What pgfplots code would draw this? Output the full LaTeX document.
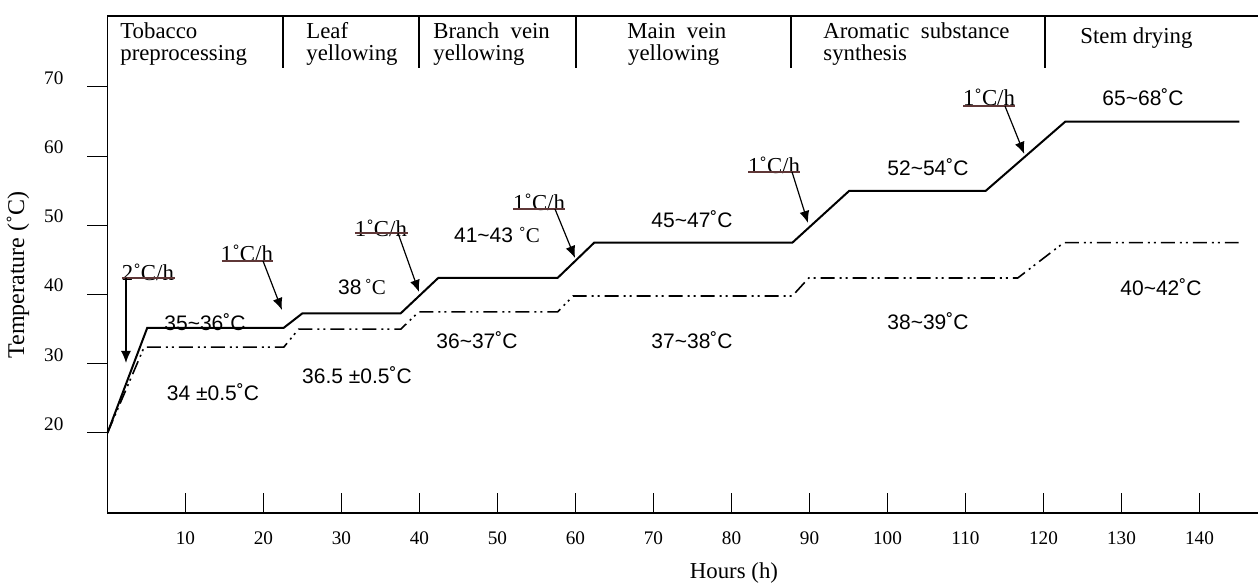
\documentclass[border=0pt]{standalone}
\usepackage{fontspec}
\setmainfont{Liberation Serif}
\newfontfamily\sansf{Liberation Sans}
\usepackage{pgfplots}
\pgfplotsset{compat=1.18}
\usetikzlibrary{arrows.meta}
\definecolor{ulc}{RGB}{95,55,55}
\newcommand\tl{\textasciitilde}
\begin{document}
\begin{tikzpicture}[
  hdr/.style={anchor=base west, inner sep=0pt, font=\fontsize{11.4}{13}\selectfont},
  vl/.style={inner sep=0pt, font=\sansf\fontsize{10.5}{12}\selectfont},
  rl/.style={inner sep=0pt, font=\fontsize{11.4}{13}\selectfont},
  arr/.style={line width=0.6pt, -{Latex[length=6pt,width=5pt]}},
  ul/.style={ulc, line width=0.6pt}
]
\begin{axis}[
  x=3.9pt, y=3.46pt,
  xmin=0, xmax=147.5, ymin=8.44, ymax=80.26,
  axis line style={draw=none},
  tick pos=left,
  xtick={10,20,...,140}, ytick={20,30,...,70},
  xtick align=inside, ytick align=outside,
  major tick length=10pt,
  tick style={black, line width=0.5pt},
  /pgf/number format/assume math mode=true,
  tick label style={font=\fontsize{9.6}{11}\selectfont},
  xticklabel style={yshift=-6pt},
  yticklabel style={yshift=4.5pt, xshift=-8.5pt},
  clip=false,
]
% solid line (upper)
\addplot[black, line width=1pt] coordinates {
 (0,20) (5.1,35.2) (22.6,35.2) (25,37.3) (37.6,37.3) (42.4,42.4) (57.7,42.4)
 (62.4,47.5) (87.8,47.5) (95.1,55) (112.6,55) (122.8,65) (145.1,65)};
% dash-dot-dot line (lower)
\addplot[black, line width=0.8pt, dash pattern=on 7pt off 2.5pt on 1pt off 2pt on 1pt off 2.5pt] coordinates {
 (0,20) (4.7,32.4) (22.6,32.4) (24.5,35.0) (37.6,35.0) (39.9,37.5) (57.7,37.5)
 (59.7,39.8) (87.8,39.8) (89.9,42.4) (116.7,42.4) (122.6,47.5) (145,47.5)};
% axis frame
\draw[line width=0.9pt] (axis cs:0,80.26) -- (axis cs:0,8.44) -- (axis cs:147.5,8.44);
\draw[line width=0.9pt] (axis cs:0,80.26) -- (axis cs:147.5,80.26);
\draw[line width=0.7pt] (axis cs:22.5,80.26) -- (axis cs:22.5,72.75);
\draw[line width=0.7pt] (axis cs:39.94,80.26) -- (axis cs:39.94,72.75);
\draw[line width=0.7pt] (axis cs:60.06,80.26) -- (axis cs:60.06,72.75);
\draw[line width=0.7pt] (axis cs:87.63,80.26) -- (axis cs:87.63,72.75);
\draw[line width=0.7pt] (axis cs:120.19,80.26) -- (axis cs:120.19,72.75);
% header
\node[hdr] at (axis cs:1.6,76.94) {Tobacco};
\node[hdr] at (axis cs:1.6,73.76) {preprocessing};
\node[hdr] at (axis cs:25.45,76.94) {Leaf};
\node[hdr] at (axis cs:25.45,73.76) {yellowing};
\node[hdr] at (axis cs:41.73,76.94) {Branch\ \ vein};
\node[hdr] at (axis cs:41.73,73.76) {yellowing};
\node[hdr] at (axis cs:66.6,76.94) {Main\ \ vein};
\node[hdr] at (axis cs:66.7,73.76) {yellowing};
\node[hdr] at (axis cs:91.73,76.94) {Aromatic\ \ substance};
\node[hdr] at (axis cs:91.73,73.76) {synthesis};
\node[hdr] at (axis cs:124.68,76.32) {Stem drying};
% value labels
\node[vl] at (axis cs:12.5,36.04) {35\tl36˚C};
\node[vl] at (axis cs:13.53,25.92) {34 ±0.5˚C};
\node[vl] at (axis cs:31.99,28.38) {36.5 ±0.5˚C};
\node[vl] at (axis cs:32.63,41.10) {38\,{\rmfamily ˚C}};
\node[vl] at (axis cs:49.94,48.61) {41\tl43 {\rmfamily ˚C}};
\node[vl] at (axis cs:74.94,50.92) {45\tl47˚C};
\node[vl] at (axis cs:47.37,33.44) {36\tl37˚C};
\node[vl] at (axis cs:74.94,33.44) {37\tl38˚C};
\node[vl] at (axis cs:105.19,58.44) {52\tl54˚C};
\node[vl] at (axis cs:132.76,68.55) {65\tl68˚C};
\node[vl] at (axis cs:105.19,36.18) {38\tl39˚C};
\node[vl] at (axis cs:135.06,41.10) {40\tl42˚C};
% rate labels
\node[rl] at (axis cs:5.19,43.27) {2˚C/h};
\draw[ul] (axis cs:1.86,42.40) -- (axis cs:8.65,42.40);
\draw[arr] (axis cs:2.37,42.40) -- (axis cs:2.37,30.12);
\node[rl] at (axis cs:17.88,46.01) {1˚C/h};
\draw[ul] (axis cs:14.68,44.86) -- (axis cs:21.22,44.86);
\draw[arr] (axis cs:19.94,44.86) -- (axis cs:22.37,37.77);
\node[rl] at (axis cs:35.06,49.62) {1˚C/h};
\draw[ul] (axis cs:31.73,48.90) -- (axis cs:38.53,48.90);
\draw[arr] (axis cs:37.24,48.90) -- (axis cs:39.94,40.38);
\node[rl] at (axis cs:55.32,53.38) {1˚C/h};
\draw[ul] (axis cs:51.99,52.37) -- (axis cs:58.65,52.37);
\draw[arr] (axis cs:57.37,52.37) -- (axis cs:59.94,45.29);
\node[rl] at (axis cs:85.45,58.73) {1˚C/h};
\draw[ul] (axis cs:82.12,57.72) -- (axis cs:88.78,57.72);
\draw[arr] (axis cs:87.76,57.72) -- (axis cs:89.81,50.35);
\node[rl] at (axis cs:113.01,68.55) {1˚C/h};
\draw[ul] (axis cs:109.68,67.25) -- (axis cs:116.35,67.25);
\draw[arr] (axis cs:115.06,67.25) -- (axis cs:117.53,60.32);
% axis labels
\node[font=\fontsize{11.4}{13}\selectfont] at (axis cs:80.32,-0.23) {Hours (h)};
\node[font=\fontsize{12}{14}\selectfont, rotate=90] at (axis cs:-11.47,42.83) {Temperature (˚C)};
\coordinate (bl) at (axis cs:-13.78,-1.68);
\coordinate (tr) at (axis cs:147.5,82.57);
\end{axis}
\pgfresetboundingbox
\path[use as bounding box] (bl) rectangle (tr);
\end{tikzpicture}
\end{document}
